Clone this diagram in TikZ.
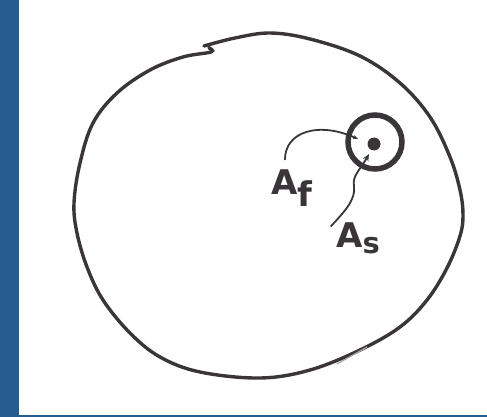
\documentclass[tikz,border=0pt]{standalone}
\usepackage{fontspec}
\newfontfamily\handfont{DejaVu Sans}
\usepackage{xcolor}
\usepackage{tikz}
\usetikzlibrary{arrows.meta,positioning,calc}
\definecolor{ink}{HTML}{3A3538}
\definecolor{barblue}{HTML}{265D91}

\begin{document}
\begin{tikzpicture}[
    x=1pt, y=-1pt,
    font=\handfont\bfseries\fontsize{34}{34}\selectfont,
    rim/.style={draw=ink, line width=3.4pt, line cap=round},
    lbl/.style={inner sep=0pt, text=ink},
    pointer/.style={draw=ink, line width=1.8pt, line cap=round}
  ]
    \useasboundingbox (0,0) rectangle (487,417);
    \fill[white] (0,0) rectangle (487,417);
    \fill[barblue] (0,0) rectangle (19,417);
    \fill[barblue] (19,415) rectangle (487,417);
    % outer boundary, hand drawn
    \draw[rim] plot[smooth, tension=0.6] coordinates {
      (204,46) (235,38) (270,33) (310,39) (360,56) (400,83) (430,117)
      (450,157) (460,190) (463,215) (460,236) (447,268) (427,300)
      (400,327) (360,350) (310,370) (260,378) (200,372) (160,357)
      (130,333) (103,300) (87,267) (77,233) (74,203) (80,163) (93,123)
      (117,93) (150,70) (183,57) (211,52) (209,48)};
    \draw[draw=ink!45, line width=1.2pt] (337,364) -- (367,347);
    % small region and its core
    \node[circle, draw=ink, line width=5.5pt, minimum size=54pt] (shell) at (375,142) {};
    \node[circle, fill=ink, minimum size=13pt, inner sep=0pt] (core) at (374,144) {};
    \coordinate (aftip) at (358,139);
    \coordinate (astip) at (369,154);
    \node[lbl] (af) at (292,188) {A\raisebox{-12pt}{f}};
    \node[lbl] (as) at (358,238) {A\raisebox{-6pt}{\fontsize{29}{29}\selectfont s}};
    \draw[pointer, -{Stealth[open, length=5pt, width=4pt]}]
      ([xshift=-7pt, yshift=10pt]af.north) .. controls (285,132) and (318,121) .. (aftip);
    \draw[pointer, -{Stealth[length=7pt, width=6pt]}]
      ([xshift=-5pt, yshift=-4pt]as.north west) .. controls (344,212) and (356,200) .. (354,186)
      .. controls (352,176) and (360,170) .. (astip);
  \end{tikzpicture}
\end{document}
